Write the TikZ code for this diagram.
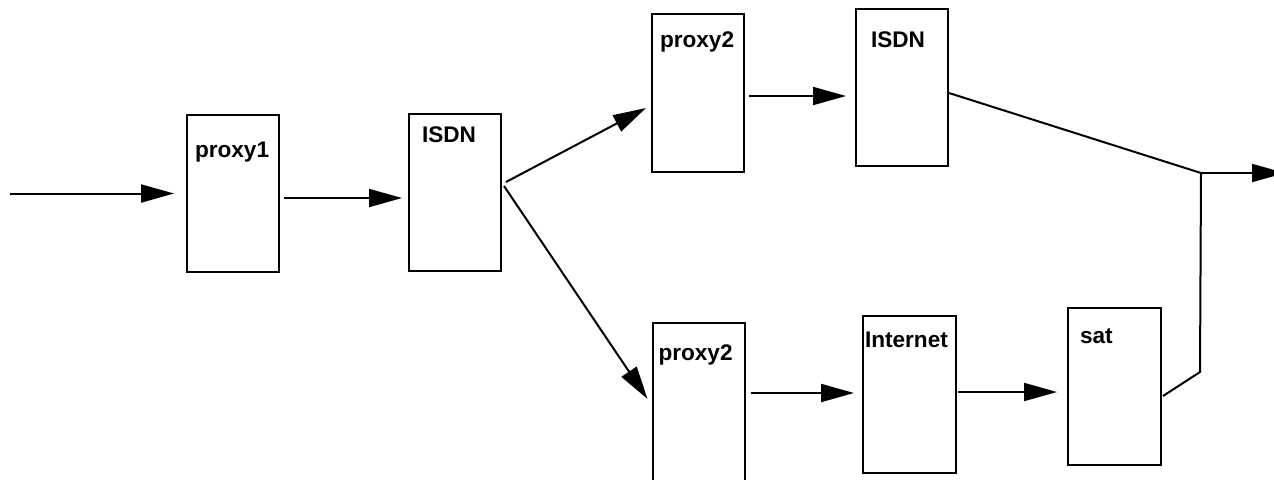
\documentclass[tikz,border=0pt]{standalone}
\usepackage{fontspec}
\setmainfont{Liberation Sans}
\usepackage{tikz}
\usetikzlibrary{arrows.meta, calc}

\begin{document}
\begin{tikzpicture}[x=0.5pt, y=-0.5pt, >={Triangle[length=16.5pt, width=9pt]}, line width=1pt,
    blk/.style={draw, rectangle, inner sep=0pt, minimum width=46pt, minimum height=78.5pt},
    lbl/.style={anchor=north west, inner sep=0pt, font=\fontsize{11.3}{13}\selectfont\bfseries}]
            \useasboundingbox (0,0) rectangle (1274,479);

            \node[blk] (p1) at (233,193.5) {};
            \node[blk] (i1) at (455,192) {};
            \node[blk, minimum height=79pt] (p2a) at (698,93) {};
            \node[blk] (i2) at (902,87.5) {};
            \node[blk, minimum height=79.5pt] (p2b) at (698.5,402.5) {};
            \node[blk, minimum width=46.5pt] (inet) at (909.5,394.5) {};
            \node[blk, minimum width=46.5pt] (sat) at (1114.5,386.5) {};

            \node[lbl] (p1t) at ($(p1.north west)+(8,27)$) {proxy1};
            \node[lbl] (i1t) at ($(i1.north west)+(13,13)$) {ISDN};
            \node[lbl] (p2at) at ($(p2a.north west)+(8,18)$) {proxy2};
            \node[lbl] (i2t) at ($(i2.north west)+(15,23)$) {ISDN};
            \node[lbl] (p2bt) at ($(p2b.north west)+(6,22)$) {proxy2};
            \node[lbl] (inett) at ($(inet.north west)+(2,16)$) {Internet};
            \node[lbl] (satt) at ($(sat.north west)+(12,21)$) {sat};

            \coordinate (in) at (10,193.5);
            \coordinate (j) at (1201,173);
            \coordinate (bend) at (1200,372);
            \coordinate (out) at (1285,173);

            \draw[->, shorten >=6pt] (in) -- (p1.west);
            \draw[->] ($(p1.east)+(4,4.5)$) -- ($(p1.east -| i1.west)+(-6,4.5)$);
            \draw[->] ($(i1.east)+(4,-10)$) -- ($(p2a.west)+(-5,15)$);
            \draw[->] ($(i1.east)+(2,-6)$) -- ($(p2b.west)+(-4,-3.5)$);
            \draw[->] ($(p2a.east)+(4,3)$) -- ($(p2a.east -| i2.west)+(-9,3)$);
            \draw[->] ($(p2b.east)+(5,-9.5)$) -- ($(p2b.east -| inet.west)+(-8,-9.5)$);
            \draw[->] ($(inet.east)+(1,-2.5)$) -- ($(inet.east -| sat.west)+(-10,-2.5)$);

            \draw ($(i2.east)+(0,5.5)$) -- (j);
            \draw ($(sat.east)+(1,9.5)$) -- (bend) -- (j);
            \draw[->] (j) -- (out);
        \end{tikzpicture}
\end{document}
